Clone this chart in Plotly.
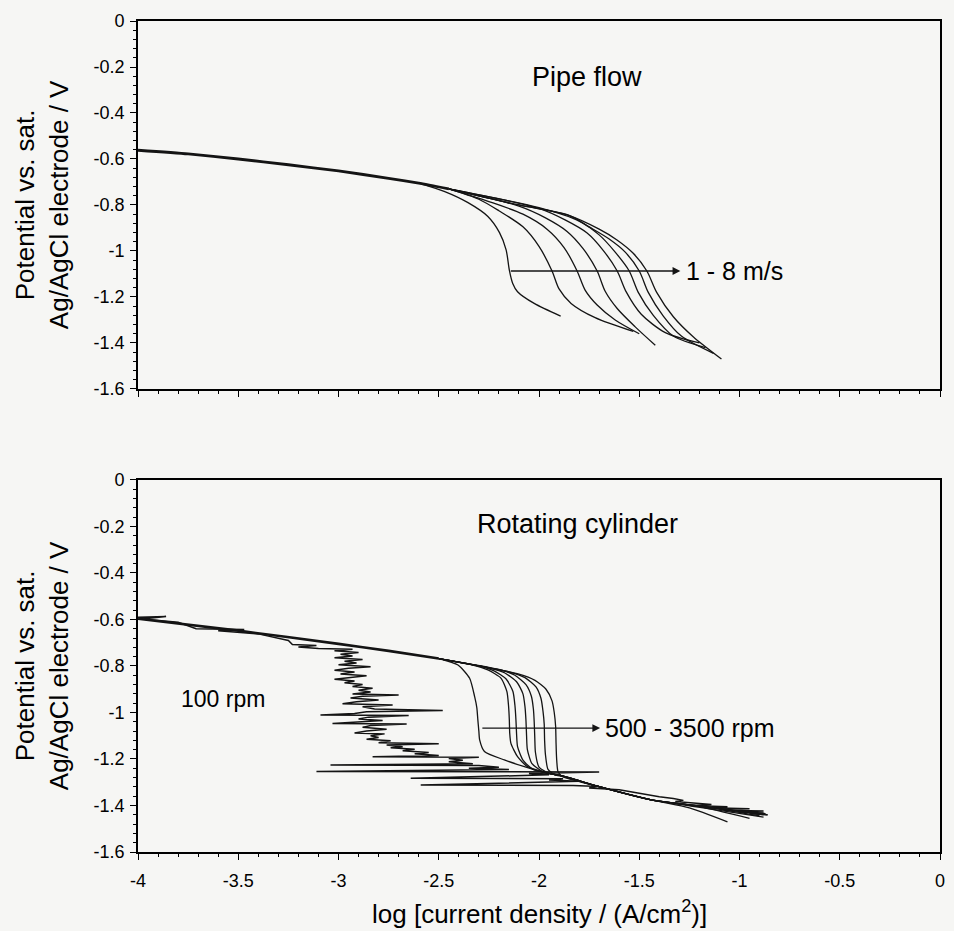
import plotly.graph_objects as go

# ---------------- tick labels ----------------
x_tickvals = [-4, -3.5, -3, -2.5, -2, -1.5, -1, -0.5, 0]
x_ticktext = ["-4", "-3.5", "-3", "-2.5", "-2", "-1.5", "-1", "-0.5", "0"]
y_tickvals = [0, -0.2, -0.4, -0.6, -0.8, -1.0, -1.2, -1.4, -1.6]
y_ticktext = ["0", "-0.2", "-0.4", "-0.6", "-0.8", "-1", "-1.2", "-1.4", "-1.6"]

# ---------------- pipe flow (top panel), 1 - 8 m/s ----------------
pipe_tafel_x = [-4.0, -3.75, -3.5, -3.25, -3.0, -2.75, -2.6, -2.45]
pipe_tafel_y = [-0.562, -0.578, -0.60, -0.625, -0.652, -0.684, -0.705, -0.73]

pipe_1_x = [-2.6, -2.47, -2.354, -2.255, -2.197, -2.164, -2.148, -2.131, -2.107, -2.024, -1.892]
pipe_1_y = [-0.705, -0.742, -0.79, -0.85, -0.92, -0.995, -1.083, -1.141, -1.177, -1.228, -1.283]
pipe_2_x = [-2.45, -2.3, -2.2, -2.08, -2.0, -1.935, -1.90, -1.84, -1.72, -1.53]
pipe_2_y = [-0.73, -0.775, -0.825, -0.895, -0.98, -1.087, -1.165, -1.228, -1.29, -1.35]
pipe_3_x = [-2.45, -2.25, -2.08, -1.96, -1.875, -1.81, -1.77, -1.71, -1.62, -1.50]
pipe_3_y = [-0.73, -0.785, -0.84, -0.905, -0.985, -1.087, -1.17, -1.235, -1.30, -1.36]
pipe_4_x = [-2.45, -2.1, -1.97, -1.86, -1.78, -1.71, -1.67, -1.61, -1.52, -1.42]
pipe_4_y = [-0.73, -0.805, -0.855, -0.915, -0.99, -1.087, -1.175, -1.25, -1.33, -1.41]
pipe_5_x = [-2.45, -2.0, -1.87, -1.76, -1.68, -1.61, -1.565, -1.49, -1.37, -1.20]
pipe_5_y = [-0.73, -0.815, -0.865, -0.922, -0.997, -1.087, -1.178, -1.275, -1.355, -1.40]
pipe_6_x = [-2.45, -2.0, -1.80, -1.70, -1.62, -1.55, -1.505, -1.43, -1.33, -1.17]
pipe_6_y = [-0.73, -0.812, -0.87, -0.93, -1.005, -1.087, -1.18, -1.28, -1.37, -1.42]
pipe_7_x = [-2.45, -2.1, -1.85, -1.75, -1.65, -1.57, -1.50, -1.455, -1.38, -1.29, -1.13]
pipe_7_y = [-0.73, -0.80, -0.845, -0.895, -0.948, -1.005, -1.087, -1.18, -1.283, -1.37, -1.445]
pipe_8_x = [-2.45, -2.1, -1.86, -1.70, -1.611, -1.53, -1.462, -1.413, -1.33, -1.231, -1.09]
pipe_8_y = [-0.73, -0.80, -0.843, -0.905, -0.952, -1.01, -1.087, -1.18, -1.286, -1.373, -1.47]

pipe_curves = [(pipe_1_x, pipe_1_y), (pipe_2_x, pipe_2_y), (pipe_3_x, pipe_3_y), (pipe_4_x, pipe_4_y),
               (pipe_5_x, pipe_5_y), (pipe_6_x, pipe_6_y), (pipe_7_x, pipe_7_y), (pipe_8_x, pipe_8_y)]

# ---------------- rotating cylinder (bottom panel) ----------------
rc_tafel_x = [-4.0, -3.5, -3.0, -2.75, -2.5]
rc_tafel_y = [-0.597, -0.648, -0.705, -0.735, -0.768]

rc_500_x = [-2.5, -2.404, -2.346, -2.321, -2.31, -2.305, -2.30, -2.296, -2.272, -2.173, -2.073, -1.958, -1.884, -1.70, -1.44, -1.25, -1.06]
rc_500_y = [-0.768, -0.796, -0.853, -0.932, -0.98, -1.032, -1.08, -1.118, -1.168, -1.204, -1.233, -1.262, -1.273, -1.319, -1.376, -1.41, -1.47]
rc_1000_x = [-2.5, -2.33, -2.255, -2.189, -2.16, -2.152, -2.148, -2.146, -2.14, -2.107, -2.057, -1.95, -1.884, -1.70, -1.44, -1.2, -0.95]
rc_1000_y = [-0.768, -0.796, -0.817, -0.853, -0.91, -0.97, -1.032, -1.09, -1.133, -1.19, -1.233, -1.262, -1.273, -1.319, -1.376, -1.405, -1.455]
rc_1500_x = [-2.5, -2.30, -2.222, -2.164, -2.13, -2.12, -2.115, -2.112, -2.107, -2.08, -2.03, -1.884, -1.70, -1.44, -1.18, -0.90]
rc_1500_y = [-0.768, -0.80, -0.822, -0.856, -0.91, -0.97, -1.032, -1.09, -1.147, -1.205, -1.245, -1.273, -1.319, -1.376, -1.405, -1.445]
rc_2000_x = [-2.5, -2.25, -2.17, -2.11, -2.08, -2.07, -2.065, -2.062, -2.058, -2.035, -1.98, -1.884, -1.70, -1.44, -1.18, -0.88]
rc_2000_y = [-0.768, -0.808, -0.83, -0.87, -0.92, -0.975, -1.035, -1.10, -1.16, -1.22, -1.255, -1.273, -1.319, -1.376, -1.405, -1.44]
rc_2500_x = [-2.5, -2.2, -2.12, -2.065, -2.038, -2.028, -2.024, -2.021, -2.018, -2.0, -1.95, -1.884, -1.70, -1.44, -1.18, -0.87]
rc_2500_y = [-0.768, -0.815, -0.84, -0.88, -0.93, -0.985, -1.04, -1.11, -1.17, -1.235, -1.262, -1.273, -1.319, -1.376, -1.405, -1.435]
rc_3000_x = [-2.5, -2.15, -2.07, -2.015, -1.99, -1.98, -1.974, -1.972, -1.968, -1.955, -1.92, -1.884, -1.70, -1.44, -1.18, -0.88]
rc_3000_y = [-0.768, -0.825, -0.85, -0.89, -0.94, -0.995, -1.05, -1.12, -1.18, -1.245, -1.268, -1.275, -1.319, -1.376, -1.41, -1.45]
rc_3500_x = [-2.5, -2.1, -2.02, -1.965, -1.935, -1.924, -1.917, -1.915, -1.912, -1.905, -1.884, -1.70, -1.44, -1.18, -0.86]
rc_3500_y = [-0.768, -0.835, -0.862, -0.90, -0.95, -1.00, -1.06, -1.13, -1.20, -1.255, -1.275, -1.319, -1.376, -1.405, -1.44]

rc_curves = [(rc_500_x, rc_500_y), (rc_1000_x, rc_1000_y), (rc_1500_x, rc_1500_y), (rc_2000_x, rc_2000_y),
             (rc_2500_x, rc_2500_y), (rc_3000_x, rc_3000_y), (rc_3500_x, rc_3500_y)]

# 100 rpm noisy curve
rpm100_x = [-4.0, -3.86, -3.98, -3.8, -3.71, -3.47, -3.6, -3.4, -3.25, -3.23, -3.11, -3.2, -3.10,
            -2.93, -3.02, -2.90, -2.99, -2.93, -3.02, -2.88, -2.97, -2.91, -3.00, -2.84, -2.95, -3.02,
            -2.92, -2.99, -2.86, -2.96, -3.02, -2.92, -2.97, -2.88, -2.93, -2.83, -2.90, -2.84, -2.93,
            -2.70, -2.88, -2.94, -2.80, -2.91, -2.98, -2.73, -2.88, -2.82, -2.48, -2.86, -2.92, -3.09,
            -2.65, -2.85, -2.90, -2.78, -2.95, -3.03, -2.66, -2.84, -2.88, -2.76, -2.86, -2.92, -2.77,
            -2.84, -2.80, -2.86, -2.74, -2.80, -2.50, -2.76, -2.68, -2.74, -2.62, -2.68, -2.55, -2.62,
            -2.50, -2.83, -2.30, -2.45, -2.38, -2.45, -2.33, -3.04, -2.30, -2.20, -2.35, -2.15, -3.11,
            -1.70, -2.05, -1.95, -2.12, -2.64, -1.88, -1.95, -1.80, -2.59, -1.83, -1.70, -1.75, -1.60,
            -1.55, -1.50, -1.45, -1.40, -1.33, -1.28, -1.32, -1.20, -1.14, -1.24, -1.06, -1.15, -0.95,
            -1.08, -0.88, -1.00, -0.88, -0.95, -0.86]
rpm100_y = [-0.590, -0.587, -0.598, -0.612, -0.640, -0.643, -0.648, -0.662, -0.690, -0.708, -0.712, -0.718, -0.725,
            -0.728, -0.735, -0.742, -0.750, -0.757, -0.765, -0.772, -0.780, -0.787, -0.795, -0.803, -0.810, -0.818,
            -0.826, -0.834, -0.842, -0.850, -0.857, -0.865, -0.872, -0.880, -0.888, -0.896, -0.904, -0.912, -0.920,
            -0.925, -0.930, -0.938, -0.946, -0.954, -0.962, -0.968, -0.975, -0.985, -0.992, -0.997, -1.004, -1.011,
            -1.013, -1.020, -1.028, -1.035, -1.042, -1.047, -1.049, -1.056, -1.064, -1.072, -1.080, -1.088, -1.092,
            -1.100, -1.108, -1.115, -1.122, -1.130, -1.135, -1.140, -1.147, -1.152, -1.158, -1.165, -1.172, -1.178,
            -1.185, -1.190, -1.192, -1.198, -1.205, -1.212, -1.220, -1.226, -1.228, -1.235, -1.240, -1.245, -1.254,
            -1.256, -1.262, -1.268, -1.272, -1.283, -1.285, -1.290, -1.296, -1.312, -1.314, -1.318, -1.325, -1.332,
            -1.340, -1.348, -1.355, -1.362, -1.370, -1.378, -1.383, -1.390, -1.396, -1.400, -1.405, -1.410, -1.414,
            -1.420, -1.424, -1.428, -1.432, -1.436, -1.440]

# ---------------- styling ----------------
FONT = "Liberation Sans, Arial, Helvetica, sans-serif"
INK = "#141414"
BG = "#f6f6f4"

fig = go.Figure()

# shared Tafel segments (many overlapping runs -> thick line)
fig.add_trace(go.Scatter(x=pipe_tafel_x, y=pipe_tafel_y, mode="lines",
                         line=dict(color=INK, width=2.8, shape="spline", smoothing=0.6),
                         xaxis="x", yaxis="y", showlegend=False, hoverinfo="skip"))
for cx, cy in pipe_curves:
    fig.add_trace(go.Scatter(x=cx, y=cy, mode="lines",
                             line=dict(color=INK, width=1.3, shape="spline", smoothing=0.8),
                             xaxis="x", yaxis="y", showlegend=False, hoverinfo="skip"))

fig.add_trace(go.Scatter(x=rc_tafel_x, y=rc_tafel_y, mode="lines",
                         line=dict(color=INK, width=2.6, shape="spline", smoothing=0.6),
                         xaxis="x2", yaxis="y2", showlegend=False, hoverinfo="skip"))
fig.add_trace(go.Scatter(x=rpm100_x, y=rpm100_y, mode="lines",
                         line=dict(color=INK, width=1.5),
                         xaxis="x2", yaxis="y2", showlegend=False, hoverinfo="skip"))
for cx, cy in rc_curves:
    fig.add_trace(go.Scatter(x=cx, y=cy, mode="lines",
                             line=dict(color=INK, width=1.3, shape="spline", smoothing=0.6),
                             xaxis="x2", yaxis="y2", showlegend=False, hoverinfo="skip"))

axis_common = dict(
    showline=True, mirror=True, linecolor="black", linewidth=1.6,
    showgrid=False, zeroline=False,
    ticks="outside", ticklen=6, tickwidth=1.3, tickcolor="black",
    tickfont=dict(family=FONT, size=18, color="black"),
)

xa = dict(axis_common, range=[-4, 0], tickmode="array", tickvals=x_tickvals, ticktext=x_ticktext,
          minor=dict(ticks="outside", ticklen=3, tickwidth=1, tickcolor="black", dtick=0.1, tick0=0))
ya = dict(axis_common, range=[-1.6, 0], tickmode="array", tickvals=y_tickvals, ticktext=y_ticktext,
          minor=dict(ticks="outside", ticklen=3, tickwidth=1, tickcolor="black", dtick=0.04, tick0=0),
          ticklabelstandoff=2)

fig.update_layout(
    width=954, height=931,
    margin=dict(l=138, r=9, t=21, b=79),
    paper_bgcolor=BG, plot_bgcolor=BG,
    font=dict(family=FONT, color="black"),
    xaxis=dict(xa, domain=[0, 1], anchor="y", showticklabels=False),
    yaxis=dict(ya, domain=[0.5572, 1], anchor="x"),
    xaxis2=dict(xa, domain=[0, 1], anchor="y2", showticklabels=True, ticklabelstandoff=6),
    yaxis2=dict(ya, domain=[0, 0.4477], anchor="x2"),
)

ann_font = dict(family=FONT, size=25, color="black")
title_font = dict(family=FONT, size=27, color="black")
annotations = [
    dict(text="Pipe flow", x=-1.76, y=-0.245, xref="x", yref="y", showarrow=False,
         xanchor="center", yanchor="middle", font=title_font),
    dict(text="", x=-1.295, y=-1.087, ax=-2.148, ay=-1.087, xref="x", yref="y", axref="x", ayref="y",
         showarrow=True, arrowhead=2, arrowsize=1.2, arrowwidth=1.3, arrowcolor=INK),
    dict(text="1 - 8 m/s", x=-1.278, y=-1.087, xref="x", yref="y", showarrow=False,
         xanchor="left", yanchor="middle", font=ann_font),
    dict(text="Rotating cylinder", x=-1.81, y=-0.19, xref="x2", yref="y2", showarrow=False,
         xanchor="center", yanchor="middle", font=title_font),
    dict(text="100 rpm", x=-3.574, y=-0.94, xref="x2", yref="y2", showarrow=False,
         xanchor="center", yanchor="middle", font=dict(family=FONT, size=23, color="black")),
    dict(text="", x=-1.695, y=-1.067, ax=-2.29, ay=-1.067, xref="x2", yref="y2", axref="x2", ayref="y2",
         showarrow=True, arrowhead=2, arrowsize=1.2, arrowwidth=1.3, arrowcolor=INK),
    dict(text="500 - 3500 rpm", x=-1.68, y=-1.067, xref="x2", yref="y2", showarrow=False,
         xanchor="left", yanchor="middle", font=ann_font),
    # y-axis titles
    dict(text="Potential vs. sat.<br>Ag/AgCl electrode / V", x=-0.1195, y=0.7786, xref="paper", yref="paper",
         showarrow=False, textangle=-90, xanchor="center", yanchor="middle",
         font=dict(family=FONT, size=26, color="black")),
    dict(text="Potential vs. sat.<br>Ag/AgCl electrode / V", x=-0.1195, y=0.2238, xref="paper", yref="paper",
         showarrow=False, textangle=-90, xanchor="center", yanchor="middle",
         font=dict(family=FONT, size=26, color="black")),
    # x-axis title
    dict(text="log [current density / (A/cm<sup>2</sup>)]", x=0.5, y=-0.0734, xref="paper", yref="paper",
         showarrow=False, xanchor="center", yanchor="middle",
         font=dict(family=FONT, size=26, color="black")),
]
fig.update_layout(annotations=annotations)

fig.write_html("out.html")
